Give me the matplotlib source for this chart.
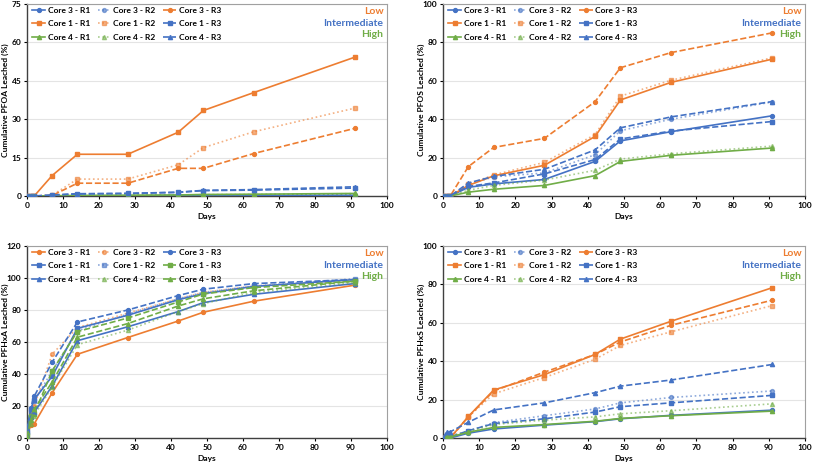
import matplotlib
matplotlib.use('Agg')
import matplotlib.pyplot as plt

plt.rcParams['font.family'] = ['Lato', 'DejaVu Sans']
plt.rcParams['font.weight'] = 'bold'

days = [0, 1, 2, 7, 14, 28, 42, 49, 63, 91]

series_names = [
    'Core 3 - R1', 'Core 3 - R2', 'Core 3 - R3',
    'Core 1 - R1', 'Core 1 - R2', 'Core 1 - R3',
    'Core 4 - R1', 'Core 4 - R2', 'Core 4 - R3',
]

# each panel: one list per series, same order as series_names
pfoa = [
    [0, 0, 0, 0.0, 0.1, 0.1, 0.2, 0.2, 0.2, 0.3],
    [0, 0, 0, 0.1, 0.2, 0.2, 0.3, 0.4, 0.4, 0.5],
    [0, 0, 0, 0.2, 5.0, 5.0, 10.8, 10.8, 16.6, 26.4],
    [0, 0, 0, 8.0, 16.3, 16.3, 24.9, 33.4, 40.4, 54.2],
    [0, 0, 0, 0.3, 6.6, 6.6, 12.2, 18.9, 25.1, 34.3],
    [0, 0, 0, 0.4, 0.9, 1.0, 1.4, 2.1, 2.3, 3.1],
    [0, 0, 0, 0.1, 0.2, 0.3, 0.4, 0.6, 0.7, 1.0],
    [0, 0, 0, 0.1, 0.2, 0.3, 0.4, 0.5, 0.6, 0.9],
    [0, 0, 0, 0.3, 0.8, 1.0, 1.5, 2.2, 2.5, 3.6],
]

pfos = [
    [0, 0, 0, 4.5, 6.3, 8.6, 18.0, 28.7, 33.5, 41.8],
    [0, 0, 0, 6.0, 10.0, 12.0, 21.5, 34.0, 40.0, 49.0],
    [0, 0, 0, 15.3, 25.3, 30.0, 49.1, 66.8, 74.7, 85.0],
    [0, 0, 0, 5.5, 10.5, 16.0, 31.0, 50.0, 59.2, 71.3],
    [0, 0, 0, 6.0, 11.0, 17.5, 32.0, 52.0, 60.3, 72.0],
    [0, 0, 0, 5.0, 6.8, 11.5, 19.0, 29.7, 33.8, 38.8],
    [0, 0, 0, 2.0, 3.5, 5.5, 10.6, 18.0, 21.2, 25.0],
    [0, 0, 0, 3.0, 5.5, 8.3, 13.4, 19.2, 22.0, 26.0],
    [0, 0, 0, 6.8, 10.2, 13.9, 24.0, 35.5, 41.2, 49.2],
]

pfhxa = [
    [0, 8.0, 8.8, 28.3, 52.3, 62.8, 73.1, 78.6, 85.5, 95.5],
    [1, 15.0, 20.0, 52.4, 69.0, 78.0, 87.0, 91.0, 95.0, 98.0],
    [5, 19.0, 26.0, 47.4, 72.5, 80.0, 89.0, 93.0, 96.5, 99.0],
    [4, 18.0, 24.0, 38.6, 68.5, 76.7, 86.4, 90.2, 94.7, 99.0],
    [3, 17.0, 23.0, 42.0, 67.0, 77.5, 87.0, 91.0, 95.0, 99.5],
    [2, 14.0, 15.0, 42.0, 66.5, 75.0, 85.0, 90.0, 94.0, 98.0],
    [1, 13.0, 16.0, 32.5, 60.8, 69.5, 79.0, 84.6, 89.8, 96.5],
    [0, 9.0, 14.0, 32.0, 58.3, 67.4, 79.0, 84.0, 91.0, 97.0],
    [0.5, 11.0, 18.0, 35.0, 63.0, 71.5, 82.5, 87.0, 92.0, 98.0],
]

pfhxs = [
    [0, 0, 0, 2.5, 4.7, 6.7, 8.5, 10.0, 11.8, 14.5],
    [0, 1.0, 1.0, 3.5, 8.0, 11.6, 15.1, 18.3, 21.1, 24.5],
    [0, 0, 0, 11.0, 24.5, 34.3, 43.5, 50.0, 58.7, 71.8],
    [0, 0, 0, 11.2, 25.0, 33.0, 43.5, 51.5, 60.8, 78.3],
    [0, 0, 0, 11.0, 23.0, 31.5, 41.0, 48.2, 55.3, 69.0],
    [0, 0.5, 0.5, 3.8, 7.5, 10.0, 13.5, 16.3, 18.3, 22.2],
    [0, 0.5, 0.5, 3.0, 5.5, 7.0, 8.7, 10.2, 11.6, 14.0],
    [0, 1.0, 1.0, 3.3, 7.0, 9.3, 11.0, 12.6, 14.2, 17.8],
    [0, 3.2, 3.2, 8.2, 14.6, 18.3, 23.6, 27.0, 30.2, 38.3],
]

ORANGE = '#ED7D31'
BLUE = '#4472C4'
GREEN = '#70AD47'

# colour of each series per panel (low / intermediate / high group)
colors_a = [BLUE, BLUE, ORANGE, ORANGE, ORANGE, BLUE, GREEN, GREEN, BLUE]
colors_hxa = [ORANGE, ORANGE, BLUE, BLUE, BLUE, GREEN, BLUE, GREEN, GREEN]

styles = ['-', ':', '--'] * 3
markers = ['o'] * 3 + ['s'] * 3 + ['^'] * 3
msizes = [2.8] * 3 + [3.4] * 3 + [3.0] * 3

panels = [
    (pfoa, colors_a, 'Cumulative PFOA Leached (%)', 75, 15, [0.0332, 0.5785, 0.4428, 0.4129]),
    (pfos, colors_a, 'Cumulative PFOS Leached (%)', 100, 20, [0.5449, 0.5785, 0.4453, 0.4129]),
    (pfhxa, colors_hxa, 'Cumulative PFHxA Leached (%)', 120, 20, [0.0332, 0.0581, 0.4428, 0.4129]),
    (pfhxs, colors_a, 'Cumulative PFHxS Leached (%)', 100, 20, [0.5449, 0.0581, 0.4453, 0.4129]),
]

fig = plt.figure(figsize=(8.13, 4.65), dpi=100)

for data, cols, ylabel, ymax, ystep, pos in panels:
    ax = fig.add_axes(pos)
    handles = []
    for i, vals in enumerate(data):
        alpha = 0.6 if styles[i] == ':' else 1.0
        h, = ax.plot(days, vals, linestyle=styles[i], color=cols[i], marker=markers[i],
                     markersize=msizes[i], linewidth=1.2, alpha=alpha,
                     label=series_names[i], zorder=3)
        handles.append(h)

    ax.set_xlim(0, 100)
    ax.set_ylim(0, ymax)
    ax.set_xticks(range(0, 101, 10))
    ax.set_yticks(range(0, ymax + 1, ystep))
    ax.grid(axis='y', color='#e4e4e4', linewidth=0.8, zorder=0)
    ax.tick_params(labelsize=6, length=2, width=0.8, pad=2)
    for lbl in ax.get_xticklabels() + ax.get_yticklabels():
        lbl.set_fontweight('bold')
    for s in ['left', 'bottom']:
        ax.spines[s].set_color('#404040')
        ax.spines[s].set_linewidth(1.0)
    for s in ['top', 'right']:
        ax.spines[s].set_color('#a0a0a0')
        ax.spines[s].set_linewidth(0.8)
    ax.set_xlabel('Days', fontsize=6, fontweight='bold', labelpad=3)
    ax.set_ylabel(ylabel, fontsize=6, fontweight='bold')
    ax.yaxis.set_label_coords(-0.05, 0.5)

    # legend rows go Core 3, Core 1, Core 4 -> reorder for column filling
    order = [0, 3, 6, 1, 4, 7, 2, 5, 8]
    ax.legend([handles[k] for k in order], [series_names[k] for k in order],
              ncol=3, loc='upper left', bbox_to_anchor=(0.0, 1.01), frameon=False,
              handlelength=1.6, handletextpad=0.3, columnspacing=0.9,
              labelspacing=0.75, borderaxespad=0.2,
              prop={'weight': 'bold', 'size': 6})

    ax.text(0.99, 0.96, 'Low', color=ORANGE, transform=ax.transAxes,
            ha='right', va='center', fontsize=7.5, fontweight='bold')
    ax.text(0.99, 0.90, 'Intermediate', color=BLUE, transform=ax.transAxes,
            ha='right', va='center', fontsize=7.5, fontweight='bold')
    ax.text(0.99, 0.84, 'High', color=GREEN, transform=ax.transAxes,
            ha='right', va='center', fontsize=7.5, fontweight='bold')

plt.savefig('out.png', dpi=100)
